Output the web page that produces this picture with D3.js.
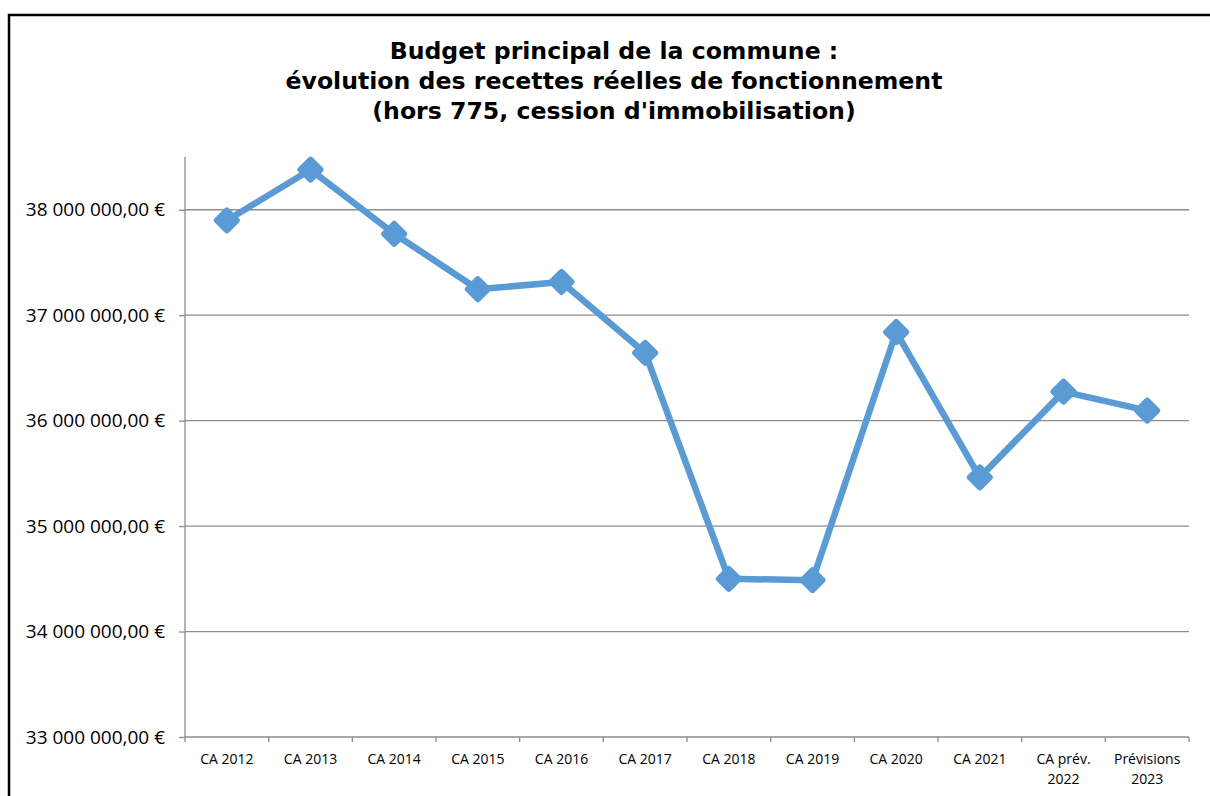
<!DOCTYPE html>
<html>
<head>
<meta charset="utf-8">
<script src="https://cdn.jsdelivr.net/npm/d3@7"></script>
<style>
  body { margin: 0; background: #fff; }
  svg { display: block; }
</style>
</head>
<body>
<div id="chart"></div>
<script>
// data
const categories = ['CA 2012','CA 2013','CA 2014','CA 2015','CA 2016','CA 2017',
                    'CA 2018','CA 2019','CA 2020','CA 2021','CA prév.\n2022','Prévisions\n2023'];
const recettes = [37898000, 38380000, 37772000, 37246000, 37315000, 36642000,
                  34500000, 34487000, 36840000, 35462000, 36275000, 36095000];
const y_ticks = [33000000, 34000000, 35000000, 36000000, 37000000, 38000000];
const title_lines = ['Budget principal de la commune :',
                     'évolution des recettes réelles de fonctionnement',
                     "(hors 775, cession d'immobilisation)"];

const width = 1210, height = 796;
const margin = {left: 185, right: 21, top: 157, bottom: 59};
const plot_w = width - margin.left - margin.right;
const plot_h = height - margin.top - margin.bottom;
const line_color = '#5b9bd5';
const grid_color = '#8c8c8c';

const svg = d3.select('#chart').append('svg')
    .attr('width', width)
    .attr('height', height);

// outer frame
svg.append('rect')
    .attr('x', 9).attr('y', 15)
    .attr('width', width + 20).attr('height', height)
    .attr('fill', 'none')
    .attr('stroke', '#000')
    .attr('stroke-width', 2.5);

// title
svg.append('g').selectAll('text')
    .data(title_lines)
    .enter()
  .append('text')
    .attr('x', 614)
    .attr('y', (d, i) => 59 + i * 30)
    .attr('text-anchor', 'middle')
    .style('font-family', '"DejaVu Sans", Verdana, sans-serif')
    .style('font-weight', 'bold')
    .style('font-size', '23.6px')
    .text(d => d);

const grp = svg.append('g')
    .attr('transform', `translate(${margin.left},${margin.top})`);

const x_scale = d3.scaleBand()
    .domain(categories)
    .range([0, plot_w]);

const y_scale = d3.scaleLinear()
    .domain([33000000, 38500000])
    .range([plot_h, 0]);

const fmt_euro = function(v){
    const s = d3.format(',.2f')(v);
    return s.replace(/,/g, ' ').replace('.', ',') + ' €';
};

// gridlines
grp.append('g')
    .selectAll('line')
    .data(y_ticks.slice(1))
    .enter()
  .append('line')
    .attr('x1', 0).attr('x2', plot_w)
    .attr('y1', d => y_scale(d)).attr('y2', d => y_scale(d))
    .attr('stroke', grid_color)
    .attr('stroke-width', 1.3);

// y axis
const y_axis = grp.append('g')
    .call(d3.axisLeft(y_scale).tickValues(y_ticks).tickSize(6).tickPadding(14).tickFormat(fmt_euro));
y_axis.select('.domain').attr('stroke', grid_color).attr('stroke-width', 1.3)
    .attr('d', `M0,0V${plot_h}`);
y_axis.selectAll('.tick line').attr('stroke', grid_color).attr('stroke-width', 1.3);
y_axis.selectAll('.tick text')
    .style('font-family', '"Open Sans", sans-serif')
    .style('font-size', '19px')
    .attr('fill', '#000');

// x axis
const x_axis = grp.append('g')
    .attr('transform', `translate(0,${plot_h})`)
    .call(d3.axisBottom(x_scale).tickSize(0).tickFormat(''));
x_axis.select('.domain').attr('stroke', grid_color).attr('stroke-width', 1.3)
    .attr('d', `M0,0H${plot_w}`);

// boundary ticks between categories
x_axis.append('g')
    .selectAll('line')
    .data(d3.range(categories.length + 1))
    .enter()
  .append('line')
    .attr('x1', i => i * x_scale.step()).attr('x2', i => i * x_scale.step())
    .attr('y1', 0).attr('y2', 5)
    .attr('stroke', grid_color)
    .attr('stroke-width', 1.3);

// category labels (may wrap on two lines)
const x_labels = x_axis.append('g')
    .selectAll('text')
    .data(categories)
    .enter()
  .append('text')
    .attr('text-anchor', 'middle')
    .attr('transform', d => `translate(${x_scale(d) + x_scale.bandwidth()/2},27)`)
    .style('font-family', '"Open Sans", sans-serif')
    .style('font-size', '14px')
    .attr('fill', '#000');
x_labels.each(function(d){
    const parts = d.split('\n');
    d3.select(this).selectAll('tspan')
        .data(parts)
        .enter()
      .append('tspan')
        .attr('x', 0)
        .attr('dy', (p, i) => i === 0 ? 0 : 20)
        .text(p => p);
});

// line
const line = d3.line()
    .x((d, i) => x_scale(categories[i]) + x_scale.bandwidth()/2)
    .y(d => y_scale(d));

grp.append('path')
    .datum(recettes)
    .attr('d', line)
    .attr('fill', 'none')
    .attr('stroke', line_color)
    .attr('stroke-width', 6.5)
    .attr('stroke-linejoin', 'round');

// diamond markers
const r = 10;
grp.append('g')
    .selectAll('path')
    .data(recettes)
    .enter()
  .append('path')
    .attr('transform', (d, i) => `translate(${x_scale(categories[i]) + x_scale.bandwidth()/2},${y_scale(d)})`)
    .attr('d', `M0,${-r}L${r},0L0,${r}L${-r},0Z`)
    .attr('fill', line_color)
    .attr('stroke', line_color)
    .attr('stroke-width', 6)
    .attr('stroke-linejoin', 'round');
</script>
</body>
</html>
